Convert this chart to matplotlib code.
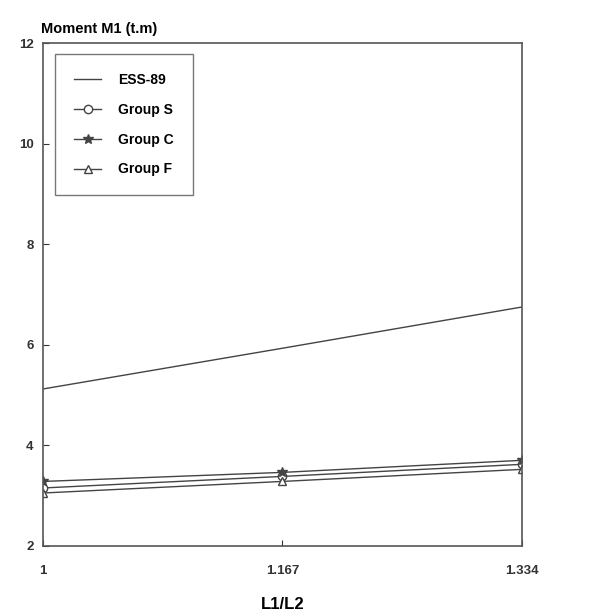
import matplotlib
matplotlib.use('Agg')
from matplotlib import pyplot as plt

plt.rcParams['font.family'] = ['Liberation Sans', 'DejaVu Sans']
plt.rcParams['font.weight'] = 'bold'

ratio = [1.0, 1.167, 1.334]
ratio_labels = ['1', '1.167', '1.334']
ess89 = [5.12, 5.93, 6.75]
group_s = [3.15, 3.38, 3.62]
group_c = [3.28, 3.46, 3.70]
group_f = [3.05, 3.28, 3.52]

fig = plt.figure(figsize=(5.91, 6.16), dpi=100)
ax = fig.add_axes([0.073, 0.114, 0.810, 0.816])

col = '#444444'
ax.plot(ratio, ess89, color=col, lw=1.0, label='ESS-89')
ax.plot(ratio, group_s, color=col, lw=1.0, marker='o', ms=6, mfc='white', mec=col, label='Group S')
ax.plot(ratio, group_c, color=col, lw=1.0, marker='*', ms=7, mfc=col, mec=col, label='Group C')
ax.plot(ratio, group_f, color=col, lw=1.0, marker='^', ms=6, mfc='white', mec=col, label='Group F')

ax.set_xlim(1.0, 1.334)
ax.set_ylim(2, 12)
ax.set_xticks(ratio)
ax.set_xticklabels(ratio_labels)
ax.set_yticks([2, 4, 6, 8, 10, 12])
ax.tick_params(direction='in', length=4, width=0.8, labelsize=9.5, colors='#333333')
ax.tick_params(axis='x', pad=14)
ax.tick_params(axis='y', pad=7)
for s in ax.spines.values():
    s.set_color('#555555')
    s.set_linewidth(1.2)

ax.set_xlabel('L1/L2', fontsize=12, fontweight='bold', labelpad=14)
ax.text(-0.005, 1.015, 'Moment M1 (t.m)', transform=ax.transAxes, fontsize=10.5,
        fontweight='bold', ha='left', va='bottom')

leg = ax.legend(loc='upper left', bbox_to_anchor=(0.016, 0.987), fontsize=10,
                fancybox=False, frameon=True, borderpad=1.35, labelspacing=1.15,
                handlelength=2.0, handletextpad=1.2, borderaxespad=0.3)
leg.get_frame().set_edgecolor('#555555')
leg.get_frame().set_linewidth(1.0)

plt.savefig('out.png', dpi=100)
